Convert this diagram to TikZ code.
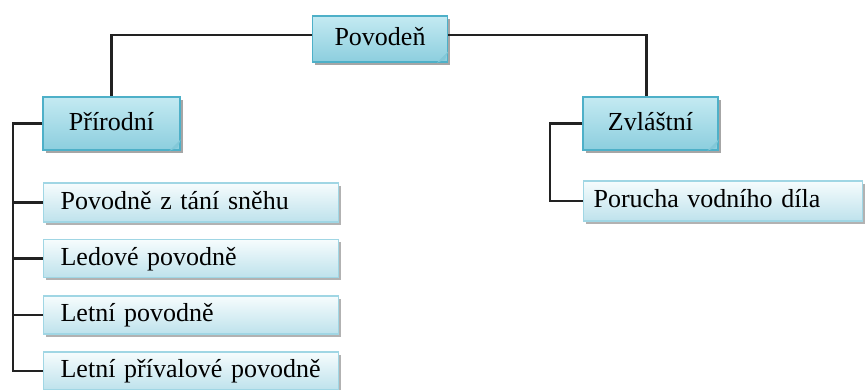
\documentclass[tikz,border=0pt]{standalone}
\usepackage{fontspec}
\setmainfont{Liberation Serif}
\usetikzlibrary{shadows}
\definecolor{icetop}{RGB}{196,234,242}
\definecolor{icebot}{RGB}{140,206,222}
\definecolor{iceline}{RGB}{78,176,200}
\definecolor{leaftop}{RGB}{246,252,253}
\definecolor{leafbot}{RGB}{190,226,236}
\definecolor{leafline}{RGB}{160,214,228}
\definecolor{linkcol}{RGB}{34,34,34}
\begin{document}
\begin{tikzpicture}[x=1pt, y=-1pt,
  link/.style={draw=linkcol, line width=2.6pt},
  topbox/.style={draw=iceline, line width=1.2pt, top color=icetop, bottom color=icebot,
    drop shadow={shadow xshift=2.5pt, shadow yshift=-2.5pt, opacity=0.35, fill=black},
    font=\fontsize{26}{30}\selectfont, text height=19pt, text depth=6pt, inner sep=0pt},
  leafbox/.style={draw=leafline, line width=1.2pt, top color=leaftop, bottom color=leafbot,
    drop shadow={shadow xshift=2.5pt, shadow yshift=-2.5pt, opacity=0.3, fill=black},
    font=\fontsize{26}{30}\selectfont, text height=19pt, text depth=6pt, inner ysep=0pt,
    align=left, anchor=west}]
  \useasboundingbox (0,0) rectangle (865,389);
  \node[topbox, minimum width=135pt, minimum height=46pt] (povoden) at (380,39) {Povodeň};
  \node[topbox, minimum width=137pt, minimum height=53pt] (prirodni) at (111.5,123.5) {Přírodní};
  \node[topbox, minimum width=135pt, minimum height=53pt] (zvlastni) at (650.5,123.5) {Zvláštní};
  \foreach \n in {povoden,prirodni,zvlastni}
    \fill[iceline!70] ([xshift=-11pt]\n.south east) -- ([yshift=11pt]\n.south east)
      -- ([xshift=-3pt,yshift=3pt]\n.south east) -- cycle;
  \node[leafbox, inner xsep=17pt, text width=261pt, minimum height=39pt] (snih) at (43,202.5) {Povodně z tání sněhu};
  \node[leafbox, inner xsep=17pt, text width=261pt, minimum height=38pt] (ledove) at (43,258.5) {Ledové povodně};
  \node[leafbox, inner xsep=17pt, text width=261pt, minimum height=38pt] (letni) at (43,315) {Letní povodně};
  \node[leafbox, inner xsep=17pt, text width=261pt, minimum height=38pt] (privalove) at (43,371) {Letní přívalové povodně};
  \node[leafbox, inner xsep=10pt, text width=259pt, minimum height=40pt] (porucha) at (583,201) {Porucha vodního díla};
  \coordinate (ptrunk) at (13,0);
  \coordinate (ztrunk) at (550,0);
  \draw[link] ([yshift=4pt]povoden.west) -| (prirodni.north);
  \draw[link] ([yshift=4pt]povoden.east) -| ([xshift=-4pt]zvlastni.north);
  \draw[link] (prirodni.west) -| (ptrunk |- privalove.west) -- (privalove.west);
  \foreach \n in {snih,ledove,letni}
    \draw[link] (ptrunk |- \n.west) -- (\n.west);
  \draw[link] (zvlastni.west) -| (ztrunk |- porucha.west) -- (porucha.west);
\end{tikzpicture}
\end{document}
